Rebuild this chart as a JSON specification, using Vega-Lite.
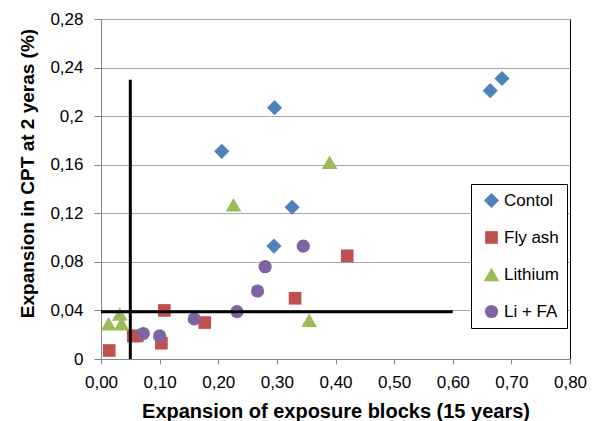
{
  "$schema": "https://vega.github.io/schema/vega-lite/v6.json",
  "width": 469,
  "height": 340,
  "autosize": "none",
  "padding": {"left": 101, "top": 19, "right": 22, "bottom": 62},
  "background": "white",
  "config": {
    "font": "Liberation Sans",
    "view": {"stroke": "#000", "strokeWidth": 1},
    "axis": {
      "labelFont": "Liberation Sans",
      "labelFontSize": 17,
      "labelColor": "#000",
      "labelFlush": false,
      "labelOverlap": false,
      "titleFont": "Liberation Sans",
      "titleFontWeight": "bold",
      "titleColor": "#000",
      "domainColor": "#868686",
      "tickColor": "#868686",
      "gridColor": "#a6a6a6"
    }
  },
  "datasets": {
    "points": [
      {"series": "Contol", "x": 0.206, "y": 0.171},
      {"series": "Contol", "x": 0.296, "y": 0.207},
      {"series": "Contol", "x": 0.326, "y": 0.125},
      {"series": "Contol", "x": 0.295, "y": 0.093},
      {"series": "Contol", "x": 0.664, "y": 0.221},
      {"series": "Contol", "x": 0.684, "y": 0.231},
      {"series": "Fly ash", "x": 0.014, "y": 0.007},
      {"series": "Fly ash", "x": 0.055, "y": 0.019},
      {"series": "Fly ash", "x": 0.062, "y": 0.019},
      {"series": "Fly ash", "x": 0.103, "y": 0.013},
      {"series": "Fly ash", "x": 0.108, "y": 0.040},
      {"series": "Fly ash", "x": 0.177, "y": 0.030},
      {"series": "Fly ash", "x": 0.331, "y": 0.050},
      {"series": "Fly ash", "x": 0.420, "y": 0.085},
      {"series": "Lithium", "x": 0.013, "y": 0.029},
      {"series": "Lithium", "x": 0.035, "y": 0.029},
      {"series": "Lithium", "x": 0.032, "y": 0.037},
      {"series": "Lithium", "x": 0.226, "y": 0.127},
      {"series": "Lithium", "x": 0.390, "y": 0.162},
      {"series": "Lithium", "x": 0.355, "y": 0.032},
      {"series": "Li + FA", "x": 0.072, "y": 0.021},
      {"series": "Li + FA", "x": 0.100, "y": 0.019},
      {"series": "Li + FA", "x": 0.159, "y": 0.033},
      {"series": "Li + FA", "x": 0.232, "y": 0.039},
      {"series": "Li + FA", "x": 0.267, "y": 0.056},
      {"series": "Li + FA", "x": 0.280, "y": 0.076},
      {"series": "Li + FA", "x": 0.345, "y": 0.093}
    ],
    "limits": [
      {"x": 0.05, "x2": 0.05, "y": 0, "y2": 0.23},
      {"x": 0, "x2": 0.6, "y": 0.039, "y2": 0.039}
    ]
  },
  "layer": [
    {
      "data": {"name": "points"},
      "mark": {"type": "point", "filled": true, "opacity": 1, "strokeWidth": 0},
      "encoding": {
        "x": {
          "field": "x",
          "type": "quantitative",
          "scale": {"domain": [0, 0.8], "nice": false},
          "axis": {
            "title": "Expansion of exposure blocks (15 years)",
            "titleFontSize": 20,
            "titleY": 58,
            "titleBaseline": "alphabetic",
            "values": [0, 0.1, 0.2, 0.3, 0.4, 0.5, 0.6, 0.7, 0.8],
            "labelExpr": "replace(format(datum.value, '.2f'), '.', ',')",
            "grid": false,
            "tickSize": 5,
            "labelPadding": 10
          }
        },
        "y": {
          "field": "y",
          "type": "quantitative",
          "scale": {"domain": [0, 0.28], "nice": false},
          "axis": {
            "title": "Expansion in CPT at 2 yeras (%)",
            "titleFontSize": 19,
            "titleX": -74,
            "titleY": 154,
            "titleBaseline": "middle",
            "values": [0, 0.04, 0.08, 0.12, 0.16, 0.2, 0.24, 0.28],
            "labelExpr": "replace(format(datum.value, '.2~f'), '.', ',')",
            "grid": true,
            "tickSize": 7,
            "labelPadding": 11
          }
        },
        "color": {
          "field": "series",
          "type": "nominal",
          "scale": {
            "domain": ["Contol", "Fly ash", "Lithium", "Li + FA"],
            "range": ["#4f81bd", "#c0504d", "#9bbb59", "#8064a2"]
          },
          "legend": {
            "title": null,
            "orient": "none",
            "legendX": 370,
            "legendY": 165,
            "padding": 8,
            "strokeColor": "#000",
            "fillColor": "#fff",
            "labelFontSize": 17,
            "labelColor": "#000",
            "labelOffset": 4,
            "symbolSize": 70,
            "symbolOffset": 4,
            "symbolStrokeWidth": 0,
            "rowPadding": 19
          }
        },
        "shape": {
          "field": "series",
          "type": "nominal",
          "scale": {
            "domain": ["Contol", "Fly ash", "Lithium", "Li + FA"],
            "range": ["diamond", "square", "triangle-up", "circle"]
          }
        },
        "size": {
          "field": "series",
          "type": "nominal",
          "scale": {
            "type": "ordinal",
            "domain": ["Contol", "Fly ash", "Lithium", "Li + FA"],
            "range": [230, 160, 245, 175]
          },
          "legend": null
        }
      }
    },
    {
      "data": {"name": "limits"},
      "mark": {"type": "rule", "color": "#000", "strokeWidth": 3},
      "encoding": {
        "x": {"field": "x", "type": "quantitative"},
        "x2": {"field": "x2"},
        "y": {"field": "y", "type": "quantitative"},
        "y2": {"field": "y2"}
      }
    }
  ]
}
